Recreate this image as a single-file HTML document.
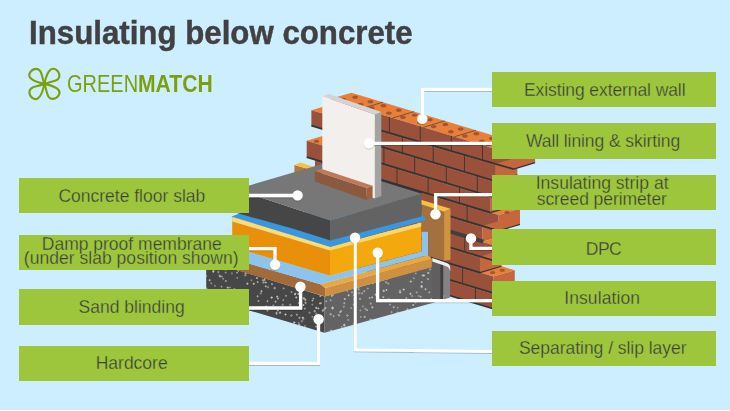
<!DOCTYPE html>
<html><head><meta charset="utf-8"><title>Insulating below concrete</title>
<style>
html,body{margin:0;padding:0}
body{width:730px;height:411px;overflow:hidden;background:#fff;font-family:"Liberation Sans",sans-serif;position:relative}
#bg{position:absolute;left:0;top:0;width:730px;height:410px;background:#cceeff}
#art{position:absolute;left:0;top:0}
.lb{position:absolute;background:#9dc63c}
.lt{position:absolute;text-align:center;color:#3c3c3b;-webkit-text-stroke:0.3px #9dc63c;font-size:17.5px;line-height:17.5px;white-space:nowrap;letter-spacing:0px}
#title{position:absolute;left:28.6px;top:15.2px;font-size:32.4px;line-height:36px;font-weight:bold;color:#414042;-webkit-text-stroke:0.45px #414042;white-space:nowrap;transform-origin:0 0;transform:scaleX(0.9645);letter-spacing:0px}
#lg{position:absolute;left:67px;top:70.2px;font-size:24.8px;line-height:28px;color:#7ba00b;white-space:nowrap}
#lg span{display:inline-block;transform-origin:0 0}
</style></head><body>
<div id="bg"></div>
<svg id="art" width="730" height="411" viewBox="0 0 730 411">
<defs><filter id="sh" x="-5%" y="-5%" width="110%" height="110%"><feDropShadow dx="0" dy="0.6" stdDeviation="0.5" flood-color="#000" flood-opacity="0.35"/></filter></defs>
<g><polygon points="330.0,99.1 513.6,154.6 535.1,148.1 351.5,92.7" fill="#e8803a" /><polygon points="513.6,154.6 535.1,148.1 535.1,162.6 513.6,169.1" fill="#c4673f" /><polygon points="330.0,99.1 513.6,154.6 513.6,169.1 330.0,115.6" fill="#99513b" /><polygon points="311.4,110.2 330.0,115.6 351.5,109.2 332.9,103.8" fill="#e8803a" /><polygon points="495.8,163.9 517.3,157.4 517.3,174.8 495.8,181.3" fill="#c4673f" /><polygon points="311.4,110.2 495.8,163.9 495.8,181.3 311.4,125.6" fill="#99513b" /><polygon points="495.8,181.3 508.4,185.1 529.9,178.6 517.3,174.8" fill="#e8803a" /><polygon points="508.4,185.1 529.9,178.6 529.9,195.2 508.4,201.7" fill="#c4673f" /><polygon points="327.0,130.3 508.4,185.1 508.4,201.7 327.0,146.9" fill="#99513b" /><polygon points="306.7,140.8 327.0,146.9 348.5,140.5 328.2,134.3" fill="#e8803a" /><polygon points="490.6,196.3 512.1,189.9 512.1,206.2 490.6,212.6" fill="#c4673f" /><polygon points="306.7,140.8 490.6,196.3 490.6,212.6 306.7,157.1" fill="#99513b" /><polygon points="490.6,212.6 498.5,215.0 520.0,208.5 512.1,206.2" fill="#e8803a" /><polygon points="498.5,215.0 520.0,208.5 520.0,224.4 498.5,230.9" fill="#c4673f" /><polygon points="315.0,159.6 498.5,215.0 498.5,230.9 315.0,175.5" fill="#99513b" /><polygon points="482.4,226.0 503.9,219.6 503.9,235.4 482.4,241.8" fill="#c4673f" /><polygon points="330.0,180.0 482.4,226.0 482.4,241.8 330.0,195.8" fill="#99513b" /><polygon points="482.4,241.8 496.0,245.9 517.5,239.5 503.9,235.4" fill="#e8803a" /><polygon points="496.0,245.9 517.5,239.5 517.5,254.9 496.0,261.3" fill="#c4673f" /><polygon points="330.0,195.8 496.0,245.9 496.0,261.3 330.0,211.2" fill="#99513b" /><polygon points="480.0,256.5 501.5,250.1 501.5,266.2 480.0,272.6" fill="#c4673f" /><polygon points="330.0,211.2 480.0,256.5 480.0,272.6 330.0,227.3" fill="#99513b" /><polygon points="480.0,272.6 493.3,276.6 514.8,270.2 501.5,266.2" fill="#e8803a" /><polygon points="493.3,276.6 514.8,270.2 514.8,286.6 493.3,293.0" fill="#c4673f" /><polygon points="330.0,227.3 493.3,276.6 493.3,293.0 330.0,243.7" fill="#99513b" /><polygon points="493.3,293.0 506.5,297.0 528.0,290.6 514.8,286.6" fill="#e8803a" /><polygon points="506.5,297.0 528.0,290.6 528.0,306.3 506.5,312.7" fill="#c4673f" /><polygon points="330.0,243.7 506.5,297.0 506.5,312.7 330.0,259.4" fill="#99513b" /><line x1="330.0" y1="116.9" x2="495.8" y2="165.2" stroke="#d9793f" stroke-width="0.7" stroke-dasharray="2.2 1.8" opacity="0.55"/><line x1="330.0" y1="115.6" x2="513.6" y2="169.1" stroke="#2f3538" stroke-width="1.7"/><line x1="513.6" y1="169.1" x2="535.1" y2="162.6" stroke="#2f3538" stroke-width="1.1"/><line x1="327.0" y1="131.6" x2="495.8" y2="182.6" stroke="#d9793f" stroke-width="0.7" stroke-dasharray="2.2 1.8" opacity="0.55"/><line x1="311.4" y1="125.6" x2="495.8" y2="181.3" stroke="#2f3538" stroke-width="1.7"/><line x1="495.8" y1="181.3" x2="517.3" y2="174.8" stroke="#2f3538" stroke-width="1.1"/><line x1="327.0" y1="148.2" x2="490.6" y2="197.6" stroke="#d9793f" stroke-width="0.7" stroke-dasharray="2.2 1.8" opacity="0.55"/><line x1="327.0" y1="146.9" x2="508.4" y2="201.7" stroke="#2f3538" stroke-width="1.7"/><line x1="508.4" y1="201.7" x2="529.9" y2="195.2" stroke="#2f3538" stroke-width="1.1"/><line x1="315.0" y1="160.9" x2="490.6" y2="213.9" stroke="#d9793f" stroke-width="0.7" stroke-dasharray="2.2 1.8" opacity="0.55"/><line x1="306.7" y1="157.1" x2="490.6" y2="212.6" stroke="#2f3538" stroke-width="1.7"/><line x1="490.6" y1="212.6" x2="512.1" y2="206.2" stroke="#2f3538" stroke-width="1.1"/><line x1="330.0" y1="181.3" x2="482.4" y2="227.3" stroke="#d9793f" stroke-width="0.7" stroke-dasharray="2.2 1.8" opacity="0.55"/><line x1="315.0" y1="175.5" x2="498.5" y2="230.9" stroke="#2f3538" stroke-width="1.7"/><line x1="498.5" y1="230.9" x2="520.0" y2="224.4" stroke="#2f3538" stroke-width="1.1"/><polygon points="445.0,227.9 484.0,239.7 482.6,243.5 445.0,232.1" fill="#3f3f3f" /><line x1="330.0" y1="212.5" x2="480.0" y2="257.8" stroke="#d9793f" stroke-width="0.7" stroke-dasharray="2.2 1.8" opacity="0.55"/><line x1="330.0" y1="211.2" x2="496.0" y2="261.3" stroke="#2f3538" stroke-width="1.7"/><line x1="496.0" y1="261.3" x2="517.5" y2="254.9" stroke="#2f3538" stroke-width="1.1"/><line x1="330.0" y1="228.6" x2="480.0" y2="273.9" stroke="#d9793f" stroke-width="0.7" stroke-dasharray="2.2 1.8" opacity="0.55"/><line x1="330.0" y1="227.3" x2="480.0" y2="272.6" stroke="#2f3538" stroke-width="1.7"/><line x1="480.0" y1="272.6" x2="501.5" y2="266.2" stroke="#2f3538" stroke-width="1.1"/><line x1="330.0" y1="245.0" x2="493.3" y2="294.3" stroke="#d9793f" stroke-width="0.7" stroke-dasharray="2.2 1.8" opacity="0.55"/><line x1="330.0" y1="243.7" x2="493.3" y2="293.0" stroke="#2f3538" stroke-width="1.7"/><line x1="493.3" y1="293.0" x2="514.8" y2="286.6" stroke="#2f3538" stroke-width="1.1"/><line x1="330.0" y1="259.4" x2="506.5" y2="312.7" stroke="#2f3538" stroke-width="1.7"/><line x1="506.5" y1="312.7" x2="528.0" y2="306.3" stroke="#2f3538" stroke-width="1.1"/><line x1="358.3" y1="107.7" x2="358.3" y2="123.9" stroke="#3a3433" stroke-width="1.0" opacity="0.9"/><line x1="389.4" y1="117.1" x2="389.4" y2="132.9" stroke="#3a3433" stroke-width="1.0" opacity="0.9"/><line x1="420.2" y1="126.4" x2="420.2" y2="141.9" stroke="#3a3433" stroke-width="1.0" opacity="0.9"/><line x1="451.3" y1="135.8" x2="451.3" y2="150.9" stroke="#3a3433" stroke-width="1.0" opacity="0.9"/><line x1="482.5" y1="145.2" x2="482.5" y2="160.0" stroke="#3a3433" stroke-width="1.0" opacity="0.9"/><line x1="340.2" y1="118.6" x2="340.2" y2="134.3" stroke="#3a3433" stroke-width="1.0" opacity="0.9"/><line x1="371.3" y1="127.7" x2="371.3" y2="143.7" stroke="#3a3433" stroke-width="1.0" opacity="0.9"/><line x1="402.4" y1="136.7" x2="402.4" y2="153.1" stroke="#3a3433" stroke-width="1.0" opacity="0.9"/><line x1="433.2" y1="145.7" x2="433.2" y2="162.4" stroke="#3a3433" stroke-width="1.0" opacity="0.9"/><line x1="464.5" y1="154.8" x2="464.5" y2="171.8" stroke="#3a3433" stroke-width="1.0" opacity="0.9"/><line x1="352.8" y1="138.1" x2="352.8" y2="154.7" stroke="#3a3433" stroke-width="1.0" opacity="0.9"/><line x1="383.9" y1="147.5" x2="383.9" y2="164.1" stroke="#3a3433" stroke-width="1.0" opacity="0.9"/><line x1="414.7" y1="156.8" x2="414.7" y2="173.4" stroke="#3a3433" stroke-width="1.0" opacity="0.9"/><line x1="446.3" y1="166.3" x2="446.3" y2="182.9" stroke="#3a3433" stroke-width="1.0" opacity="0.9"/><line x1="477.3" y1="175.7" x2="477.3" y2="192.3" stroke="#3a3433" stroke-width="1.0" opacity="0.9"/><line x1="334.9" y1="149.3" x2="334.9" y2="165.6" stroke="#3a3433" stroke-width="1.0" opacity="0.9"/><line x1="366.0" y1="158.7" x2="366.0" y2="175.0" stroke="#3a3433" stroke-width="1.0" opacity="0.9"/><line x1="397.0" y1="168.0" x2="397.0" y2="184.3" stroke="#3a3433" stroke-width="1.0" opacity="0.9"/><line x1="428.1" y1="177.4" x2="428.1" y2="193.7" stroke="#3a3433" stroke-width="1.0" opacity="0.9"/><line x1="459.5" y1="186.9" x2="459.5" y2="203.2" stroke="#3a3433" stroke-width="1.0" opacity="0.9"/><line x1="436.0" y1="196.1" x2="436.0" y2="212.0" stroke="#3a3433" stroke-width="1.0" opacity="0.9"/><line x1="467.1" y1="205.5" x2="467.1" y2="221.4" stroke="#3a3433" stroke-width="1.0" opacity="0.9"/><line x1="464.8" y1="236.5" x2="464.8" y2="251.9" stroke="#3a3433" stroke-width="1.0" opacity="0.9"/><line x1="462.6" y1="267.4" x2="462.6" y2="283.8" stroke="#3a3433" stroke-width="1.0" opacity="0.9"/><line x1="475.4" y1="287.6" x2="475.4" y2="303.3" stroke="#3a3433" stroke-width="1.0" opacity="0.9"/><line x1="361.5" y1="108.7" x2="383.0" y2="102.2" stroke="#2f3538" stroke-width="0.8" opacity="0.75"/><line x1="392.6" y1="118.0" x2="414.1" y2="111.6" stroke="#2f3538" stroke-width="0.8" opacity="0.75"/><line x1="423.4" y1="127.3" x2="444.9" y2="120.9" stroke="#2f3538" stroke-width="0.8" opacity="0.75"/><line x1="454.5" y1="136.7" x2="476.0" y2="130.3" stroke="#2f3538" stroke-width="0.8" opacity="0.75"/><line x1="485.7" y1="146.2" x2="507.2" y2="139.7" stroke="#2f3538" stroke-width="0.8" opacity="0.75"/><line x1="513.6" y1="154.6" x2="535.1" y2="148.1" stroke="#2f3538" stroke-width="0.8" opacity="0.75"/><ellipse cx="343.6" cy="99.4" rx="2.9" ry="1.7" fill="#a8532f"/><ellipse cx="360.7" cy="104.5" rx="2.9" ry="1.7" fill="#a8532f"/><ellipse cx="355.2" cy="97.2" rx="2.9" ry="1.7" fill="#a8532f"/><ellipse cx="370.5" cy="101.8" rx="2.9" ry="1.7" fill="#a8532f"/><ellipse cx="371.9" cy="107.9" rx="2.9" ry="1.7" fill="#a8532f"/><ellipse cx="389.0" cy="113.1" rx="2.9" ry="1.7" fill="#a8532f"/><ellipse cx="383.5" cy="105.7" rx="2.9" ry="1.7" fill="#a8532f"/><ellipse cx="398.8" cy="110.3" rx="2.9" ry="1.7" fill="#a8532f"/><ellipse cx="403.0" cy="117.3" rx="2.9" ry="1.7" fill="#a8532f"/><ellipse cx="420.1" cy="122.5" rx="2.9" ry="1.7" fill="#a8532f"/><ellipse cx="414.6" cy="115.1" rx="2.9" ry="1.7" fill="#a8532f"/><ellipse cx="429.9" cy="119.7" rx="2.9" ry="1.7" fill="#a8532f"/><ellipse cx="433.8" cy="126.6" rx="2.9" ry="1.7" fill="#a8532f"/><ellipse cx="450.9" cy="131.8" rx="2.9" ry="1.7" fill="#a8532f"/><ellipse cx="445.4" cy="124.4" rx="2.9" ry="1.7" fill="#a8532f"/><ellipse cx="460.7" cy="129.0" rx="2.9" ry="1.7" fill="#a8532f"/><ellipse cx="464.9" cy="136.0" rx="2.9" ry="1.7" fill="#a8532f"/><ellipse cx="482.0" cy="141.2" rx="2.9" ry="1.7" fill="#a8532f"/><ellipse cx="476.5" cy="133.8" rx="2.9" ry="1.7" fill="#a8532f"/><ellipse cx="491.8" cy="138.4" rx="2.9" ry="1.7" fill="#a8532f"/><ellipse cx="496.1" cy="145.4" rx="2.9" ry="1.7" fill="#a8532f"/><ellipse cx="513.2" cy="150.6" rx="2.9" ry="1.7" fill="#a8532f"/><ellipse cx="507.7" cy="143.2" rx="2.9" ry="1.7" fill="#a8532f"/><ellipse cx="523.0" cy="147.8" rx="2.9" ry="1.7" fill="#a8532f"/><ellipse cx="492.6" cy="272.4" rx="2.7" ry="1.5" fill="#a8532f"/><ellipse cx="502.2" cy="270.3" rx="2.7" ry="1.5" fill="#a8532f"/><ellipse cx="316.5" cy="141.2" rx="2.7" ry="1.5" fill="#a8532f"/><ellipse cx="507" cy="212.6" rx="2.7" ry="1.5" fill="#a8532f"/></g>
<polygon points="294.4,164.9 307.4,168.8 307.4,171.0 294.4,174.0" fill="#b07a3f" />
<polygon points="294.4,164.9 300.5,162.6 313.6,166.7 307.4,168.8" fill="#f5c242" />
<polygon points="206.2,260.5 324.5,296.6 324.5,332.7 206.2,297.7" fill="#474747" />
<polygon points="324.5,296.6 431.9,267.3 443.0,264.3 443.0,299.6 434.2,302.6 324.5,332.7" fill="#636363" />
<g><path d="M218.8,297.5h1.8M219.7,296.6v1.8" stroke="#d4d4d4" stroke-width="0.9" opacity="0.55"/><path d="M226.6,291.7h1.8M227.5,290.8v1.8" stroke="#d4d4d4" stroke-width="0.9" opacity="0.55"/><path d="M354.6,302.8h1.8M355.5,301.9v1.8" stroke="#d4d4d4" stroke-width="0.9" opacity="0.85"/><path d="M257.4,301.0h2.0M258.4,300.0v2.0" stroke="#d4d4d4" stroke-width="0.9" opacity="0.7"/><path d="M304.2,299.8h2.2M305.3,298.7v2.2" stroke="#d4d4d4" stroke-width="0.9" opacity="0.85"/><path d="M342.7,306.7h2.2M343.8,305.6v2.2" stroke="#d4d4d4" stroke-width="0.9" opacity="0.55"/><path d="M218.8,276.4h2.6M220.1,275.1v2.6" stroke="#d4d4d4" stroke-width="0.9" opacity="0.7"/><path d="M315.2,326.6h2.2M316.3,325.5v2.2" stroke="#d4d4d4" stroke-width="0.9" opacity="0.7"/><path d="M276.1,296.7h2.2M277.2,295.6v2.2" stroke="#d4d4d4" stroke-width="0.9" opacity="0.85"/><path d="M311.5,304.6h1.8M312.4,303.7v1.8" stroke="#d4d4d4" stroke-width="0.9" opacity="0.55"/><path d="M223.3,301.1h2.2M224.4,300.0v2.2" stroke="#d4d4d4" stroke-width="0.9" opacity="0.7"/><path d="M369.5,303.6h2.6M370.8,302.3v2.6" stroke="#d4d4d4" stroke-width="0.9" opacity="0.55"/><path d="M317.5,308.5h1.8M318.4,307.6v1.8" stroke="#d4d4d4" stroke-width="0.9" opacity="0.85"/><path d="M371.0,307.3h2.6M372.3,306.0v2.6" stroke="#d4d4d4" stroke-width="0.9" opacity="0.7"/><path d="M288.9,304.8h2.6M290.2,303.5v2.6" stroke="#d4d4d4" stroke-width="0.9" opacity="0.55"/><path d="M256.7,282.1h2.0M257.7,281.1v2.0" stroke="#d4d4d4" stroke-width="0.9" opacity="0.7"/><path d="M297.8,323.0h1.8M298.7,322.1v1.8" stroke="#d4d4d4" stroke-width="0.9" opacity="0.55"/><path d="M311.5,300.5h2.0M312.5,299.5v2.0" stroke="#d4d4d4" stroke-width="0.9" opacity="0.7"/><path d="M409.5,281.5h2.6M410.8,280.2v2.6" stroke="#d4d4d4" stroke-width="0.9" opacity="0.7"/><path d="M366.8,288.6h2.0M367.8,287.6v2.0" stroke="#d4d4d4" stroke-width="0.9" opacity="0.55"/><path d="M224.7,272.6h2.0M225.7,271.6v2.0" stroke="#d4d4d4" stroke-width="0.9" opacity="0.55"/><path d="M319.8,303.2h2.2M320.9,302.1v2.2" stroke="#d4d4d4" stroke-width="0.9" opacity="0.7"/><path d="M205.9,291.3h2.2M207.0,290.2v2.2" stroke="#d4d4d4" stroke-width="0.9" opacity="0.85"/><path d="M368.7,298.1h1.8M369.6,297.2v1.8" stroke="#d4d4d4" stroke-width="0.9" opacity="0.7"/><path d="M298.1,289.9h1.8M299.0,289.0v1.8" stroke="#d4d4d4" stroke-width="0.9" opacity="0.7"/><path d="M221.0,276.6h2.0M222.0,275.6v2.0" stroke="#d4d4d4" stroke-width="0.9" opacity="0.55"/><path d="M229.1,287.5h1.8M230.0,286.6v1.8" stroke="#d4d4d4" stroke-width="0.9" opacity="0.55"/><path d="M412.2,305.0h2.0M413.2,304.0v2.0" stroke="#d4d4d4" stroke-width="0.9" opacity="0.85"/><path d="M264.7,286.3h2.2M265.8,285.2v2.2" stroke="#d4d4d4" stroke-width="0.9" opacity="0.7"/><path d="M440.1,294.6h2.6M441.4,293.3v2.6" stroke="#d4d4d4" stroke-width="0.9" opacity="0.7"/><path d="M225.3,269.2h2.2M226.4,268.1v2.2" stroke="#d4d4d4" stroke-width="0.9" opacity="0.85"/><path d="M430.4,299.0h2.0M431.4,298.0v2.0" stroke="#d4d4d4" stroke-width="0.9" opacity="0.85"/><path d="M330.3,330.5h1.8M331.2,329.6v1.8" stroke="#d4d4d4" stroke-width="0.9" opacity="0.85"/><path d="M405.4,298.3h2.0M406.4,297.3v2.0" stroke="#d4d4d4" stroke-width="0.9" opacity="0.7"/><path d="M387.8,299.3h2.2M388.9,298.2v2.2" stroke="#d4d4d4" stroke-width="0.9" opacity="0.85"/><path d="M211.8,264.0h2.2M212.9,262.9v2.2" stroke="#d4d4d4" stroke-width="0.9" opacity="0.7"/><path d="M266.3,310.5h2.2M267.4,309.4v2.2" stroke="#d4d4d4" stroke-width="0.9" opacity="0.7"/><path d="M396.5,312.6h2.2M397.6,311.5v2.2" stroke="#d4d4d4" stroke-width="0.9" opacity="0.7"/><path d="M223.8,269.2h2.6M225.1,267.9v2.6" stroke="#d4d4d4" stroke-width="0.9" opacity="0.55"/><path d="M285.1,295.8h1.8M286.0,294.9v1.8" stroke="#d4d4d4" stroke-width="0.9" opacity="0.7"/><path d="M420.6,286.1h1.8M421.5,285.2v1.8" stroke="#d4d4d4" stroke-width="0.9" opacity="0.85"/><path d="M233.4,289.2h2.0M234.4,288.2v2.0" stroke="#d4d4d4" stroke-width="0.9" opacity="0.7"/><path d="M415.6,292.4h2.2M416.7,291.3v2.2" stroke="#d4d4d4" stroke-width="0.9" opacity="0.55"/><path d="M298.9,290.1h1.8M299.8,289.2v1.8" stroke="#d4d4d4" stroke-width="0.9" opacity="0.85"/><path d="M315.0,307.9h2.6M316.3,306.6v2.6" stroke="#d4d4d4" stroke-width="0.9" opacity="0.85"/><path d="M427.2,272.9h2.0M428.2,271.9v2.0" stroke="#d4d4d4" stroke-width="0.9" opacity="0.55"/><path d="M359.0,298.9h2.0M360.0,297.9v2.0" stroke="#d4d4d4" stroke-width="0.9" opacity="0.7"/><path d="M438.8,275.6h2.0M439.8,274.6v2.0" stroke="#d4d4d4" stroke-width="0.9" opacity="0.55"/><path d="M264.7,282.5h2.0M265.7,281.5v2.0" stroke="#d4d4d4" stroke-width="0.9" opacity="0.85"/><path d="M282.3,300.1h2.0M283.3,299.1v2.0" stroke="#d4d4d4" stroke-width="0.9" opacity="0.55"/><path d="M420.4,286.8h2.6M421.7,285.5v2.6" stroke="#d4d4d4" stroke-width="0.9" opacity="0.85"/><path d="M343.0,325.3h2.6M344.3,324.0v2.6" stroke="#d4d4d4" stroke-width="0.9" opacity="0.85"/><path d="M236.1,272.6h1.8M237.0,271.7v1.8" stroke="#d4d4d4" stroke-width="0.9" opacity="0.7"/><path d="M389.0,304.6h2.0M390.0,303.6v2.0" stroke="#d4d4d4" stroke-width="0.9" opacity="0.55"/><path d="M238.6,305.3h1.8M239.5,304.4v1.8" stroke="#d4d4d4" stroke-width="0.9" opacity="0.85"/><path d="M330.9,295.8h1.8M331.8,294.9v1.8" stroke="#d4d4d4" stroke-width="0.9" opacity="0.85"/><path d="M218.6,275.4h1.8M219.5,274.5v1.8" stroke="#d4d4d4" stroke-width="0.9" opacity="0.55"/><path d="M325.4,301.3h1.8M326.3,300.4v1.8" stroke="#d4d4d4" stroke-width="0.9" opacity="0.7"/><path d="M270.4,297.6h2.6M271.7,296.3v2.6" stroke="#d4d4d4" stroke-width="0.9" opacity="0.85"/><path d="M266.5,301.2h2.0M267.5,300.2v2.0" stroke="#d4d4d4" stroke-width="0.9" opacity="0.7"/><path d="M237.2,270.5h2.6M238.5,269.2v2.6" stroke="#d4d4d4" stroke-width="0.9" opacity="0.7"/><path d="M222.3,278.8h1.8M223.2,277.9v1.8" stroke="#d4d4d4" stroke-width="0.9" opacity="0.55"/><path d="M363.7,316.9h2.0M364.7,315.9v2.0" stroke="#d4d4d4" stroke-width="0.9" opacity="0.85"/><path d="M357.4,287.6h2.2M358.5,286.5v2.2" stroke="#d4d4d4" stroke-width="0.9" opacity="0.55"/><path d="M434.4,277.4h1.8M435.3,276.5v1.8" stroke="#d4d4d4" stroke-width="0.9" opacity="0.7"/><path d="M414.7,273.4h2.0M415.7,272.4v2.0" stroke="#d4d4d4" stroke-width="0.9" opacity="0.55"/><path d="M300.6,291.5h2.2M301.7,290.4v2.2" stroke="#d4d4d4" stroke-width="0.9" opacity="0.7"/><path d="M226.7,287.6h2.2M227.8,286.5v2.2" stroke="#d4d4d4" stroke-width="0.9" opacity="0.85"/><path d="M313.4,311.2h2.6M314.7,309.9v2.6" stroke="#d4d4d4" stroke-width="0.9" opacity="0.7"/><path d="M432.7,269.9h2.0M433.7,268.9v2.0" stroke="#d4d4d4" stroke-width="0.9" opacity="0.55"/><path d="M224.9,281.0h2.0M225.9,280.0v2.0" stroke="#d4d4d4" stroke-width="0.9" opacity="0.7"/><path d="M406.3,309.3h2.2M407.4,308.2v2.2" stroke="#d4d4d4" stroke-width="0.9" opacity="0.7"/><path d="M340.3,311.0h1.8M341.2,310.1v1.8" stroke="#d4d4d4" stroke-width="0.9" opacity="0.7"/><path d="M409.4,293.8h2.2M410.5,292.7v2.2" stroke="#d4d4d4" stroke-width="0.9" opacity="0.85"/><path d="M304.0,326.1h2.0M305.0,325.1v2.0" stroke="#d4d4d4" stroke-width="0.9" opacity="0.55"/><path d="M231.0,273.3h1.8M231.9,272.4v1.8" stroke="#d4d4d4" stroke-width="0.9" opacity="0.55"/><path d="M252.7,283.8h2.2M253.8,282.7v2.2" stroke="#d4d4d4" stroke-width="0.9" opacity="0.85"/><path d="M385.0,282.3h2.0M386.0,281.3v2.0" stroke="#d4d4d4" stroke-width="0.9" opacity="0.7"/><path d="M378.7,300.6h2.0M379.7,299.6v2.0" stroke="#d4d4d4" stroke-width="0.9" opacity="0.85"/><path d="M317.6,327.4h1.8M318.5,326.5v1.8" stroke="#d4d4d4" stroke-width="0.9" opacity="0.85"/><path d="M398.8,292.3h2.6M400.1,291.0v2.6" stroke="#d4d4d4" stroke-width="0.9" opacity="0.85"/><path d="M402.7,289.5h2.2M403.8,288.4v2.2" stroke="#d4d4d4" stroke-width="0.9" opacity="0.85"/><path d="M256.0,278.1h2.0M257.0,277.1v2.0" stroke="#d4d4d4" stroke-width="0.9" opacity="0.85"/><path d="M352.9,323.6h2.6M354.2,322.3v2.6" stroke="#d4d4d4" stroke-width="0.9" opacity="0.55"/><path d="M295.2,297.4h2.2M296.3,296.3v2.2" stroke="#d4d4d4" stroke-width="0.9" opacity="0.85"/><path d="M262.1,282.5h2.6M263.4,281.2v2.6" stroke="#d4d4d4" stroke-width="0.9" opacity="0.55"/><path d="M242.2,293.2h2.2M243.3,292.1v2.2" stroke="#d4d4d4" stroke-width="0.9" opacity="0.7"/><path d="M433.8,283.7h2.2M434.9,282.6v2.2" stroke="#d4d4d4" stroke-width="0.9" opacity="0.55"/><path d="M205.0,288.7h2.6M206.3,287.4v2.6" stroke="#d4d4d4" stroke-width="0.9" opacity="0.7"/><path d="M210.3,283.3h2.0M211.3,282.3v2.0" stroke="#d4d4d4" stroke-width="0.9" opacity="0.55"/><path d="M343.8,299.0h2.0M344.8,298.0v2.0" stroke="#d4d4d4" stroke-width="0.9" opacity="0.85"/><path d="M346.1,315.5h2.6M347.4,314.2v2.6" stroke="#d4d4d4" stroke-width="0.9" opacity="0.55"/><path d="M272.3,305.3h2.0M273.3,304.3v2.0" stroke="#d4d4d4" stroke-width="0.9" opacity="0.55"/><path d="M371.2,297.4h1.8M372.1,296.5v1.8" stroke="#d4d4d4" stroke-width="0.9" opacity="0.85"/><path d="M343.4,324.5h2.0M344.4,323.5v2.0" stroke="#d4d4d4" stroke-width="0.9" opacity="0.55"/><path d="M212.3,271.3h2.2M213.4,270.2v2.2" stroke="#d4d4d4" stroke-width="0.9" opacity="0.55"/><path d="M294.4,293.6h1.8M295.3,292.7v1.8" stroke="#d4d4d4" stroke-width="0.9" opacity="0.85"/><path d="M262.7,280.5h2.6M264.0,279.2v2.6" stroke="#d4d4d4" stroke-width="0.9" opacity="0.55"/><path d="M382.4,297.2h1.8M383.3,296.3v1.8" stroke="#d4d4d4" stroke-width="0.9" opacity="0.85"/><path d="M329.4,314.2h2.6M330.7,312.9v2.6" stroke="#d4d4d4" stroke-width="0.9" opacity="0.7"/><path d="M259.4,307.5h2.6M260.7,306.2v2.6" stroke="#d4d4d4" stroke-width="0.9" opacity="0.7"/><path d="M420.9,282.1h1.8M421.8,281.2v1.8" stroke="#d4d4d4" stroke-width="0.9" opacity="0.85"/><path d="M359.4,310.5h2.0M360.4,309.5v2.0" stroke="#d4d4d4" stroke-width="0.9" opacity="0.55"/><path d="M319.4,296.0h1.8M320.3,295.1v1.8" stroke="#d4d4d4" stroke-width="0.9" opacity="0.85"/><path d="M256.5,296.3h2.2M257.6,295.2v2.2" stroke="#d4d4d4" stroke-width="0.9" opacity="0.7"/><path d="M315.4,315.7h2.0M316.4,314.7v2.0" stroke="#d4d4d4" stroke-width="0.9" opacity="0.7"/><path d="M208.8,294.1h2.6M210.1,292.8v2.6" stroke="#d4d4d4" stroke-width="0.9" opacity="0.7"/><path d="M266.9,287.2h2.2M268.0,286.1v2.2" stroke="#d4d4d4" stroke-width="0.9" opacity="0.55"/><path d="M417.9,296.0h1.8M418.8,295.1v1.8" stroke="#d4d4d4" stroke-width="0.9" opacity="0.55"/><path d="M205.6,296.4h2.6M206.9,295.1v2.6" stroke="#d4d4d4" stroke-width="0.9" opacity="0.7"/><path d="M273.4,288.1h2.6M274.7,286.8v2.6" stroke="#d4d4d4" stroke-width="0.9" opacity="0.7"/><path d="M290.4,292.0h2.2M291.5,290.9v2.2" stroke="#d4d4d4" stroke-width="0.9" opacity="0.55"/><path d="M361.9,306.4h2.0M362.9,305.4v2.0" stroke="#d4d4d4" stroke-width="0.9" opacity="0.55"/><path d="M435.0,292.5h2.2M436.1,291.4v2.2" stroke="#d4d4d4" stroke-width="0.9" opacity="0.55"/><path d="M385.5,290.0h2.0M386.5,289.0v2.0" stroke="#d4d4d4" stroke-width="0.9" opacity="0.85"/><path d="M302.4,305.0h2.0M303.4,304.0v2.0" stroke="#d4d4d4" stroke-width="0.9" opacity="0.85"/><path d="M411.1,296.0h2.0M412.1,295.0v2.0" stroke="#d4d4d4" stroke-width="0.9" opacity="0.55"/><path d="M275.5,313.7h2.2M276.6,312.6v2.2" stroke="#d4d4d4" stroke-width="0.9" opacity="0.7"/><path d="M244.7,273.3h2.0M245.7,272.3v2.0" stroke="#d4d4d4" stroke-width="0.9" opacity="0.85"/><path d="M419.7,296.8h2.0M420.7,295.8v2.0" stroke="#d4d4d4" stroke-width="0.9" opacity="0.7"/><path d="M261.7,280.1h2.0M262.7,279.1v2.0" stroke="#d4d4d4" stroke-width="0.9" opacity="0.55"/><path d="M382.4,290.9h2.6M383.7,289.6v2.6" stroke="#d4d4d4" stroke-width="0.9" opacity="0.85"/><path d="M234.8,297.2h2.0M235.8,296.2v2.0" stroke="#d4d4d4" stroke-width="0.9" opacity="0.55"/><path d="M299.6,293.2h2.2M300.7,292.1v2.2" stroke="#d4d4d4" stroke-width="0.9" opacity="0.55"/><path d="M234.9,291.8h2.6M236.2,290.5v2.6" stroke="#d4d4d4" stroke-width="0.9" opacity="0.85"/><path d="M311.4,316.8h2.0M312.4,315.8v2.0" stroke="#d4d4d4" stroke-width="0.9" opacity="0.55"/><path d="M234.9,301.9h1.8M235.8,301.0v1.8" stroke="#d4d4d4" stroke-width="0.9" opacity="0.85"/><path d="M353.2,299.0h2.6M354.5,297.7v2.6" stroke="#d4d4d4" stroke-width="0.9" opacity="0.85"/><path d="M250.5,280.3h1.8M251.4,279.4v1.8" stroke="#d4d4d4" stroke-width="0.9" opacity="0.55"/><path d="M271.0,284.1h2.0M272.0,283.1v2.0" stroke="#d4d4d4" stroke-width="0.9" opacity="0.7"/><path d="M329.8,300.3h1.8M330.7,299.4v1.8" stroke="#d4d4d4" stroke-width="0.9" opacity="0.7"/><path d="M372.1,283.5h1.8M373.0,282.6v1.8" stroke="#d4d4d4" stroke-width="0.9" opacity="0.55"/><path d="M322.8,309.2h2.6M324.1,307.9v2.6" stroke="#d4d4d4" stroke-width="0.9" opacity="0.55"/><path d="M265.9,308.7h2.2M267.0,307.6v2.2" stroke="#d4d4d4" stroke-width="0.9" opacity="0.55"/><path d="M321.5,310.7h2.6M322.8,309.4v2.6" stroke="#d4d4d4" stroke-width="0.9" opacity="0.7"/><path d="M434.9,283.8h2.0M435.9,282.8v2.0" stroke="#d4d4d4" stroke-width="0.9" opacity="0.55"/><path d="M352.8,304.7h2.0M353.8,303.7v2.0" stroke="#d4d4d4" stroke-width="0.9" opacity="0.7"/><path d="M303.8,308.6h2.0M304.8,307.6v2.0" stroke="#d4d4d4" stroke-width="0.9" opacity="0.7"/><path d="M346.4,291.1h1.8M347.3,290.2v1.8" stroke="#d4d4d4" stroke-width="0.9" opacity="0.55"/><path d="M298.1,324.9h2.2M299.2,323.8v2.2" stroke="#d4d4d4" stroke-width="0.9" opacity="0.85"/><path d="M244.0,275.3h2.6M245.3,274.0v2.6" stroke="#d4d4d4" stroke-width="0.9" opacity="0.55"/><path d="M278.8,312.8h2.2M279.9,311.7v2.2" stroke="#d4d4d4" stroke-width="0.9" opacity="0.7"/><path d="M223.2,267.7h2.6M224.5,266.4v2.6" stroke="#d4d4d4" stroke-width="0.9" opacity="0.55"/><path d="M337.7,315.1h2.6M339.0,313.8v2.6" stroke="#d4d4d4" stroke-width="0.9" opacity="0.7"/><path d="M386.9,283.6h2.6M388.2,282.3v2.6" stroke="#d4d4d4" stroke-width="0.9" opacity="0.55"/><path d="M216.6,295.1h2.2M217.7,294.0v2.2" stroke="#d4d4d4" stroke-width="0.9" opacity="0.85"/><path d="M422.8,275.5h2.2M423.9,274.4v2.2" stroke="#d4d4d4" stroke-width="0.9" opacity="0.85"/><path d="M302.1,318.8h2.6M303.4,317.5v2.6" stroke="#d4d4d4" stroke-width="0.9" opacity="0.55"/><path d="M294.1,294.5h1.8M295.0,293.6v1.8" stroke="#d4d4d4" stroke-width="0.9" opacity="0.7"/><path d="M275.6,312.5h1.8M276.5,311.6v1.8" stroke="#d4d4d4" stroke-width="0.9" opacity="0.55"/><path d="M374.3,294.6h2.6M375.6,293.3v2.6" stroke="#d4d4d4" stroke-width="0.9" opacity="0.7"/><path d="M236.6,296.8h1.8M237.5,295.9v1.8" stroke="#d4d4d4" stroke-width="0.9" opacity="0.85"/><path d="M276.9,310.4h2.0M277.9,309.4v2.0" stroke="#d4d4d4" stroke-width="0.9" opacity="0.85"/><path d="M314.3,316.9h1.8M315.2,316.0v1.8" stroke="#d4d4d4" stroke-width="0.9" opacity="0.85"/><path d="M227.6,296.9h2.6M228.9,295.6v2.6" stroke="#d4d4d4" stroke-width="0.9" opacity="0.55"/><path d="M260.5,291.2h2.0M261.5,290.2v2.0" stroke="#d4d4d4" stroke-width="0.9" opacity="0.85"/><path d="M332.7,316.2h1.8M333.6,315.3v1.8" stroke="#d4d4d4" stroke-width="0.9" opacity="0.7"/><path d="M274.5,301.7h2.2M275.6,300.6v2.2" stroke="#d4d4d4" stroke-width="0.9" opacity="0.7"/><path d="M263.6,279.2h2.0M264.6,278.2v2.0" stroke="#d4d4d4" stroke-width="0.9" opacity="0.7"/><path d="M414.4,302.5h2.2M415.5,301.4v2.2" stroke="#d4d4d4" stroke-width="0.9" opacity="0.55"/><path d="M396.7,307.7h1.8M397.6,306.8v1.8" stroke="#d4d4d4" stroke-width="0.9" opacity="0.55"/><path d="M259.7,293.4h2.2M260.8,292.3v2.2" stroke="#d4d4d4" stroke-width="0.9" opacity="0.55"/><path d="M412.9,278.3h1.8M413.8,277.4v1.8" stroke="#d4d4d4" stroke-width="0.9" opacity="0.55"/><path d="M347.3,320.0h2.0M348.3,319.0v2.0" stroke="#d4d4d4" stroke-width="0.9" opacity="0.55"/><path d="M292.9,322.6h2.6M294.2,321.3v2.6" stroke="#d4d4d4" stroke-width="0.9" opacity="0.85"/><path d="M429.0,269.4h2.2M430.1,268.3v2.2" stroke="#d4d4d4" stroke-width="0.9" opacity="0.55"/><path d="M214.0,285.8h1.8M214.9,284.9v1.8" stroke="#d4d4d4" stroke-width="0.9" opacity="0.55"/><path d="M442.0,264.7h2.0M443.0,263.7v2.0" stroke="#d4d4d4" stroke-width="0.9" opacity="0.55"/><path d="M399.0,290.6h2.2M400.1,289.5v2.2" stroke="#d4d4d4" stroke-width="0.9" opacity="0.55"/><path d="M212.2,296.7h2.6M213.5,295.4v2.6" stroke="#d4d4d4" stroke-width="0.9" opacity="0.55"/><path d="M301.7,317.7h2.0M302.7,316.7v2.0" stroke="#d4d4d4" stroke-width="0.9" opacity="0.85"/><path d="M331.3,307.7h2.6M332.6,306.4v2.6" stroke="#d4d4d4" stroke-width="0.9" opacity="0.85"/><path d="M363.4,291.2h1.8M364.3,290.3v1.8" stroke="#d4d4d4" stroke-width="0.9" opacity="0.7"/><path d="M357.4,289.4h2.6M358.7,288.1v2.6" stroke="#d4d4d4" stroke-width="0.9" opacity="0.55"/><path d="M428.3,292.4h2.0M429.3,291.4v2.0" stroke="#d4d4d4" stroke-width="0.9" opacity="0.7"/><path d="M217.0,272.0h2.6M218.3,270.7v2.6" stroke="#d4d4d4" stroke-width="0.9" opacity="0.55"/><path d="M340.8,326.9h2.0M341.8,325.9v2.0" stroke="#d4d4d4" stroke-width="0.9" opacity="0.55"/><path d="M295.9,314.7h2.0M296.9,313.7v2.0" stroke="#d4d4d4" stroke-width="0.9" opacity="0.7"/><path d="M436.3,295.8h1.8M437.2,294.9v1.8" stroke="#d4d4d4" stroke-width="0.9" opacity="0.85"/><path d="M424.5,289.2h2.0M425.5,288.2v2.0" stroke="#d4d4d4" stroke-width="0.9" opacity="0.85"/><path d="M300.6,321.2h2.6M301.9,319.9v2.6" stroke="#d4d4d4" stroke-width="0.9" opacity="0.55"/><path d="M427.3,273.0h2.2M428.4,271.9v2.2" stroke="#d4d4d4" stroke-width="0.9" opacity="0.55"/><path d="M364.2,308.8h2.2M365.3,307.7v2.2" stroke="#d4d4d4" stroke-width="0.9" opacity="0.55"/><path d="M297.3,293.9h2.2M298.4,292.8v2.2" stroke="#d4d4d4" stroke-width="0.9" opacity="0.85"/><path d="M304.3,302.8h2.6M305.6,301.5v2.6" stroke="#d4d4d4" stroke-width="0.9" opacity="0.7"/><path d="M360.8,293.3h2.6M362.1,292.0v2.6" stroke="#d4d4d4" stroke-width="0.9" opacity="0.55"/><path d="M235.5,292.1h1.8M236.4,291.2v1.8" stroke="#d4d4d4" stroke-width="0.9" opacity="0.7"/><path d="M324.6,308.0h1.8M325.5,307.1v1.8" stroke="#d4d4d4" stroke-width="0.9" opacity="0.85"/><path d="M279.5,312.4h1.8M280.4,311.5v1.8" stroke="#d4d4d4" stroke-width="0.9" opacity="0.55"/><path d="M359.8,316.9h1.8M360.7,316.0v1.8" stroke="#d4d4d4" stroke-width="0.9" opacity="0.55"/><path d="M437.7,296.4h2.0M438.7,295.4v2.0" stroke="#d4d4d4" stroke-width="0.9" opacity="0.85"/><path d="M220.4,286.6h2.2M221.5,285.5v2.2" stroke="#d4d4d4" stroke-width="0.9" opacity="0.55"/><path d="M281.4,304.9h2.6M282.7,303.6v2.6" stroke="#d4d4d4" stroke-width="0.9" opacity="0.55"/><path d="M318.8,303.4h2.0M319.8,302.4v2.0" stroke="#d4d4d4" stroke-width="0.9" opacity="0.7"/><path d="M300.5,306.6h2.2M301.6,305.5v2.2" stroke="#d4d4d4" stroke-width="0.9" opacity="0.85"/><path d="M282.6,288.4h2.2M283.7,287.3v2.2" stroke="#d4d4d4" stroke-width="0.9" opacity="0.55"/><path d="M312.5,298.5h1.8M313.4,297.6v1.8" stroke="#d4d4d4" stroke-width="0.9" opacity="0.7"/><path d="M298.3,317.8h2.2M299.4,316.7v2.2" stroke="#d4d4d4" stroke-width="0.9" opacity="0.7"/><path d="M290.1,315.5h2.6M291.4,314.2v2.6" stroke="#d4d4d4" stroke-width="0.9" opacity="0.55"/><path d="M265.0,306.7h2.2M266.1,305.6v2.2" stroke="#d4d4d4" stroke-width="0.9" opacity="0.85"/><path d="M205.4,264.4h2.0M206.4,263.4v2.0" stroke="#d4d4d4" stroke-width="0.9" opacity="0.7"/><path d="M350.9,292.3h2.2M352.0,291.2v2.2" stroke="#d4d4d4" stroke-width="0.9" opacity="0.55"/><path d="M236.4,277.9h1.8M237.3,277.0v1.8" stroke="#d4d4d4" stroke-width="0.9" opacity="0.55"/><path d="M277.0,298.6h2.0M278.0,297.6v2.0" stroke="#d4d4d4" stroke-width="0.9" opacity="0.7"/><path d="M343.3,303.2h2.0M344.3,302.2v2.0" stroke="#d4d4d4" stroke-width="0.9" opacity="0.7"/><path d="M352.9,295.2h2.0M353.9,294.2v2.0" stroke="#d4d4d4" stroke-width="0.9" opacity="0.55"/><path d="M427.0,279.1h2.0M428.0,278.1v2.0" stroke="#d4d4d4" stroke-width="0.9" opacity="0.7"/><path d="M357.7,293.1h2.6M359.0,291.8v2.6" stroke="#d4d4d4" stroke-width="0.9" opacity="0.55"/><path d="M350.2,308.0h2.0M351.2,307.0v2.0" stroke="#d4d4d4" stroke-width="0.9" opacity="0.55"/><path d="M302.6,298.3h2.6M303.9,297.0v2.6" stroke="#d4d4d4" stroke-width="0.9" opacity="0.85"/><path d="M246.3,283.7h2.2M247.4,282.6v2.2" stroke="#d4d4d4" stroke-width="0.9" opacity="0.85"/><path d="M390.7,312.1h1.8M391.6,311.2v1.8" stroke="#d4d4d4" stroke-width="0.9" opacity="0.7"/><path d="M315.0,313.9h2.6M316.3,312.6v2.6" stroke="#d4d4d4" stroke-width="0.9" opacity="0.55"/><path d="M284.4,314.5h2.2M285.5,313.4v2.2" stroke="#d4d4d4" stroke-width="0.9" opacity="0.85"/><path d="M365.9,310.0h2.2M367.0,308.9v2.2" stroke="#d4d4d4" stroke-width="0.9" opacity="0.7"/><path d="M208.6,280.2h2.0M209.6,279.2v2.0" stroke="#d4d4d4" stroke-width="0.9" opacity="0.85"/><path d="M421.5,275.4h2.6M422.8,274.1v2.6" stroke="#d4d4d4" stroke-width="0.9" opacity="0.7"/><path d="M332.2,295.0h1.8M333.1,294.1v1.8" stroke="#d4d4d4" stroke-width="0.9" opacity="0.55"/><path d="M308.5,312.7h2.2M309.6,311.6v2.2" stroke="#d4d4d4" stroke-width="0.9" opacity="0.55"/><path d="M297.8,303.0h2.0M298.8,302.0v2.0" stroke="#d4d4d4" stroke-width="0.9" opacity="0.55"/><path d="M212.8,269.8h2.0M213.8,268.8v2.0" stroke="#d4d4d4" stroke-width="0.9" opacity="0.7"/><path d="M212.4,271.7h1.8M213.3,270.8v1.8" stroke="#d4d4d4" stroke-width="0.9" opacity="0.85"/><path d="M331.2,308.5h2.6M332.5,307.2v2.6" stroke="#d4d4d4" stroke-width="0.9" opacity="0.55"/><path d="M354.8,295.4h2.0M355.8,294.4v2.0" stroke="#d4d4d4" stroke-width="0.9" opacity="0.55"/><path d="M392.6,307.2h2.2M393.7,306.1v2.2" stroke="#d4d4d4" stroke-width="0.9" opacity="0.7"/><path d="M347.6,295.3h2.2M348.7,294.2v2.2" stroke="#d4d4d4" stroke-width="0.9" opacity="0.85"/><path d="M212.5,298.3h1.8M213.4,297.4v1.8" stroke="#d4d4d4" stroke-width="0.9" opacity="0.7"/><path d="M339.3,312.0h1.8M340.2,311.1v1.8" stroke="#d4d4d4" stroke-width="0.9" opacity="0.85"/><path d="M205.4,276.1h1.8M206.3,275.2v1.8" stroke="#d4d4d4" stroke-width="0.9" opacity="0.55"/><path d="M369.5,319.8h2.6M370.8,318.5v2.6" stroke="#d4d4d4" stroke-width="0.9" opacity="0.85"/></g>
<polygon points="218.0,254.5 320.4,284.2 325.2,288.0 325.2,296.6 218.0,264.5" fill="#a36a3a" />
<polygon points="325.2,288.0 431.9,259.0 431.9,267.3 325.2,296.6" fill="#cd9141" />
<polygon points="320.4,284.2 428.5,254.9 431.9,259.0 325.2,288.0" fill="#e9a83f" />
<polygon points="226.0,245.0 330.0,275.8 421.6,251.2 428.1,255.0 320.4,284.2 226.0,257.2" fill="#8dc4ee" />
<polygon points="421.6,231.5 428.1,231.5 428.1,256.0 421.6,256.0" fill="#8dc4ee" />
<polygon points="232.2,217.0 330.0,246.6 330.0,275.8 232.2,247.0" fill="#e8900a" />
<polygon points="330.0,246.6 421.4,222.4 421.4,251.2 330.0,275.8" fill="#f3a90e" />
<polygon points="232.2,217.0 330.0,246.6 330.0,250.4 232.2,221.4" fill="#fcdc7a" />
<polygon points="330.0,246.6 421.4,222.4 421.4,226.4 330.0,250.4" fill="#fbd768" />
<polygon points="421.5,204.3 444.1,211.8 444.1,260.8 431.9,257.0 428.1,256.0 428.1,231.5 421.5,231.5" fill="#a4703d" />
<polygon points="444.1,211.8 450.5,208.8 450.5,259.7 444.1,260.8" fill="#cf9441" />
<polygon points="415.0,198.0 450.5,208.8 444.1,211.8 415.0,202.2" fill="#f5c242" />
<polygon points="431.9,259.2 443.0,263.0 443.0,299.8 431.9,300.0" fill="#5f5f5f" />
<polygon points="440.4,262.6 443.3,263.6 443.3,299.6 440.4,300.4" fill="#3f3f3f" />
<path d="M443.3,263 L447,264.6 Q450,265.8 450,269 L450,297.6 L443.3,299.6 Z" fill="#838383"/>
<path d="M432.3,258.1 L446.8,262.9 Q450.3,264.2 450.3,268.2 L450.3,271.5 Q449.6,267.6 446.2,266.3 L432.3,261.4 Z" fill="#efefef"/>
<polygon points="231.3,216.5 245.0,211.5 421.5,214.0 426.3,219.9 330.4,247.0" fill="#3a97dd" />
<line x1="322" y1="162.4" x2="421.5" y2="193" stroke="#2f3538" stroke-width="1.6"/>
<polygon points="236.0,189.4 330.4,220.5 330.4,240.4 295.0,229.3 236.0,212.8" fill="#464646" />
<polygon points="330.4,220.5 421.5,193.7 421.5,216.5 330.4,240.4" fill="#636363" />
<polygon points="236.0,189.4 324.0,163.5 421.5,193.7 330.4,220.5" fill="#777777" />
<polygon points="374.9,114.5 381.3,112.0 381.3,195.9 374.9,198.4" fill="#a3a3a3" />
<polygon points="322.3,96.3 328.9,94.0 381.3,112.0 374.9,114.5" fill="#d4d4d4" />
<polygon points="322.3,96.3 374.9,114.5 374.9,198.4 322.3,179.6" fill="#f3efed" />
<polygon points="314.8,171.0 321.9,168.9 372.6,185.8 366.7,188.1" fill="#c07a5a" />
<polygon points="366.7,188.1 372.6,185.8 372.6,197.7 366.7,200.1" fill="#a0603f" />
<polygon points="314.8,171.0 366.7,188.1 366.7,200.1 314.8,181.6" fill="#8b5a3e" />
<g filter="url(#sh)"><path d="M249,195.5 H297" fill="none" stroke="#fff" stroke-width="3.3" stroke-linejoin="miter"/><circle cx="297.6" cy="195.4" r="5.2" fill="#fff"/><path d="M249,248.7 H275 V264" fill="none" stroke="#fff" stroke-width="3.3" stroke-linejoin="miter"/><circle cx="275.1" cy="264.6" r="5.2" fill="#fff"/><path d="M249,308 H300.6 V287" fill="none" stroke="#fff" stroke-width="3.3" stroke-linejoin="miter"/><circle cx="300.4" cy="286.7" r="5.2" fill="#fff"/><path d="M249,363.4 H318.5 V319" fill="none" stroke="#fff" stroke-width="3.3" stroke-linejoin="miter"/><circle cx="318.6" cy="319.2" r="5.2" fill="#fff"/><path d="M492,89.4 H422.4 V119" fill="none" stroke="#fff" stroke-width="3.3" stroke-linejoin="miter"/><circle cx="422.3" cy="118.9" r="5.2" fill="#fff"/><path d="M492,143.3 H369" fill="none" stroke="#fff" stroke-width="3.3" stroke-linejoin="miter"/><circle cx="369" cy="143.3" r="5.2" fill="#fff"/><path d="M492,194.6 H435.6 V214" fill="none" stroke="#fff" stroke-width="3.3" stroke-linejoin="miter"/><circle cx="435.5" cy="214.2" r="5.2" fill="#fff"/><path d="M492,248.4 H470.9 V238" fill="none" stroke="#fff" stroke-width="3.3" stroke-linejoin="miter"/><circle cx="471" cy="238.4" r="5.2" fill="#fff"/><path d="M492,300.6 H377.6 V253" fill="none" stroke="#fff" stroke-width="3.3" stroke-linejoin="miter"/><circle cx="377.7" cy="252.7" r="5.2" fill="#fff"/><path d="M492,351.5 L355.3,349.7 V238" fill="none" stroke="#fff" stroke-width="3.0" stroke-linejoin="miter"/><circle cx="355" cy="237.7" r="5.2" fill="#fff"/></g>
</svg>
<div class="lb" style="left:19px;top:178px;width:230px;height:35px"></div>
<div class="lt" style="left:16.85px;width:230px;top:187.70px;letter-spacing:0px">Concrete floor slab</div>
<div class="lb" style="left:19px;top:235px;width:230px;height:35px"></div>
<div class="lt" style="left:16.75px;width:230px;top:235.50px;letter-spacing:0px">Damp proof membrane</div>
<div class="lt" style="left:16.25px;width:230px;top:250.30px;letter-spacing:0.03px">(under slab position shown)</div>
<div class="lb" style="left:19px;top:289px;width:230px;height:36px"></div>
<div class="lt" style="left:16.65px;width:230px;top:298.70px;letter-spacing:0px">Sand blinding</div>
<div class="lb" style="left:19px;top:346px;width:230px;height:35px"></div>
<div class="lt" style="left:16.70px;width:230px;top:354.90px;letter-spacing:0px">Hardcore</div>
<div class="lb" style="left:492px;top:72px;width:224px;height:35px"></div>
<div class="lt" style="left:492.75px;width:224px;top:81.80px;letter-spacing:-0.09px">Existing external wall</div>
<div class="lb" style="left:492px;top:123.3px;width:224px;height:35.3px"></div>
<div class="lt" style="left:491.05px;width:224px;top:132.60px;letter-spacing:-0.08px">Wall lining &amp; skirting</div>
<div class="lb" style="left:492px;top:175.1px;width:224px;height:35.4px"></div>
<div class="lt" style="left:490.15px;width:224px;top:175.40px;letter-spacing:0.03px">Insulating strip at</div>
<div class="lt" style="left:489.80px;width:224px;top:191.40px;letter-spacing:-0.08px">screed perimeter</div>
<div class="lb" style="left:492px;top:229px;width:224px;height:35.5px"></div>
<div class="lt" style="left:491.55px;width:224px;top:240.70px;letter-spacing:-0.5px">DPC</div>
<div class="lb" style="left:492px;top:281px;width:224px;height:35px"></div>
<div class="lt" style="left:490.15px;width:224px;top:289.60px;letter-spacing:0.1px">Insulation</div>
<div class="lb" style="left:492px;top:331px;width:224px;height:35.3px"></div>
<div class="lt" style="left:490.75px;width:224px;top:339.70px;letter-spacing:-0.03px">Separating / slip layer</div>
<div id="title">Insulating below concrete</div>
<svg id="logo" style="position:absolute;left:24px;top:64px" width="42" height="42" viewBox="-20.4 -19.9 42 42">
<g fill="none" stroke="#7ba00b" stroke-width="2.1" stroke-linejoin="round" stroke-linecap="round">
<path id="pt" d="M0,0 C-6,-1.2 -12,-3 -14.5,-6.5 C-16.6,-10 -13,-15 -8,-15 C-4.5,-15 -3,-11 -2.3,-8 C-1.6,-5 -0.8,-2.5 0,0Z"/>
<path d="M0,0 C-6,-1.2 -12,-3 -14.5,-6.5 C-16.6,-10 -13,-15 -8,-15 C-4.5,-15 -3,-11 -2.3,-8 C-1.6,-5 -0.8,-2.5 0,0Z" transform="rotate(90)"/>
<path d="M0,0 C-6,-1.2 -12,-3 -14.5,-6.5 C-16.6,-10 -13,-15 -8,-15 C-4.5,-15 -3,-11 -2.3,-8 C-1.6,-5 -0.8,-2.5 0,0Z" transform="rotate(180)"/>
<path d="M0,0 C-6,-1.2 -12,-3 -14.5,-6.5 C-16.6,-10 -13,-15 -8,-15 C-4.5,-15 -3,-11 -2.3,-8 C-1.6,-5 -0.8,-2.5 0,0Z" transform="rotate(270)"/>
</g></svg>
<div id="lg"><span id="lg1" style="transform:scaleX(0.806)">GREEN</span><span id="lg2" style="font-weight:bold;transform:scaleX(0.852);position:absolute;left:70.5px;top:0">MATCH</span></div>
</body></html>
